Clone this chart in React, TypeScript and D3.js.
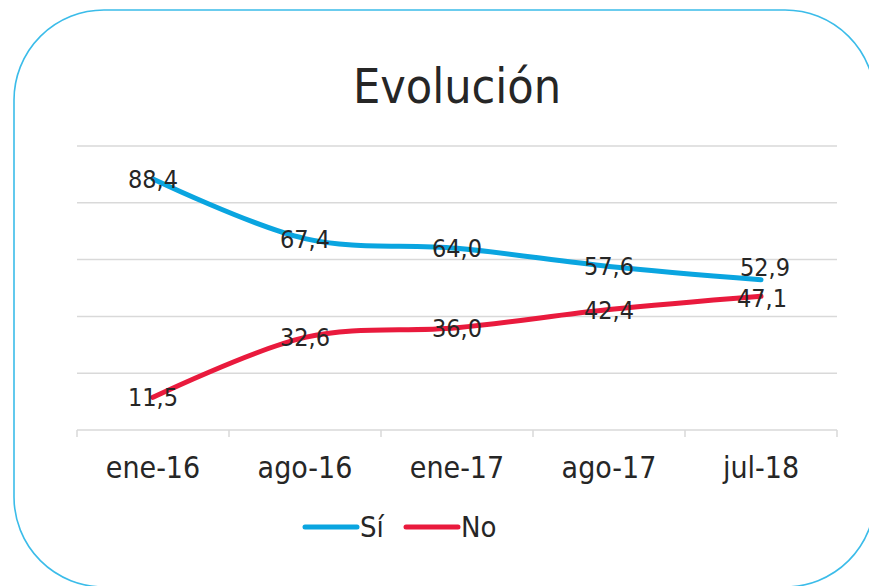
import React, { useEffect, useRef } from 'react';
import * as d3 from 'd3';

const categories = ['ene-16', 'ago-16', 'ene-17', 'ago-17', 'jul-18'];
const siValues = [88.4, 67.4, 64.0, 57.6, 52.9];
const noValues = [11.5, 32.6, 36.0, 42.4, 47.1];
const yTicks = [0, 20, 40, 60, 80, 100];

const series = [
  { name: 'Sí', values: siValues, color: '#0AA5E0' },
  { name: 'No', values: noValues, color: '#E91A3D' }
];

const FONT = '"DejaVu Sans Condensed", "DejaVu Sans", sans-serif';

const App: React.FC = () => {
  const svgRef = useRef<SVGSVGElement>(null);
  const width = 869;
  const height = 586;

  useEffect(() => {
    const svg = d3.select(svgRef.current);
    svg.selectAll('*').remove();

    const plot = { left: 77, right: 837, top: 146, bottom: 430 };

    // Rounded frame (partly off the canvas on the right and bottom)
    svg.append('rect')
      .attr('x', 14)
      .attr('y', 10)
      .attr('width', 861)
      .attr('height', 577)
      .attr('rx', 90)
      .attr('ry', 90)
      .attr('fill', 'white')
      .attr('stroke', '#3BBCE9')
      .attr('stroke-width', 1.6);

    // Title
    svg.append('text')
      .attr('x', 457)
      .attr('y', 103)
      .attr('text-anchor', 'middle')
      .style('font-family', FONT)
      .style('font-stretch', 'condensed')
      .style('font-size', '48px')
      .style('fill', '#262626')
      .text('Evolución');

    // Scales
    const xBand = d3.scaleBand<string>()
      .domain(categories)
      .range([plot.left, plot.right]);

    const xScale = (c: string) => xBand(c)! + xBand.bandwidth() / 2;

    const yScale = d3.scaleLinear()
      .domain([0, 100])
      .range([plot.bottom, plot.top]);

    // Gridlines
    svg.append('g')
      .selectAll('line')
      .data(yTicks)
      .join('line')
      .attr('x1', plot.left)
      .attr('x2', plot.right)
      .attr('y1', d => yScale(d))
      .attr('y2', d => yScale(d))
      .attr('stroke', '#D9D9D9')
      .attr('stroke-width', 1.5);

    // X axis
    const xAxis = svg.append('g')
      .attr('transform', `translate(0,${plot.bottom})`)
      .call(d3.axisBottom(xBand).tickSize(0).tickPadding(48));

    xAxis.select('.domain').remove();
    xAxis.selectAll('text')
      .style('font-family', FONT)
      .style('font-stretch', 'condensed')
      .style('font-size', '30px')
      .style('fill', '#262626')
      .attr('dy', '0');

    // Tick marks at band boundaries
    const boundaries = categories.map(c => xBand(c)!).concat([plot.right]);
    svg.append('g')
      .selectAll('line')
      .data(boundaries)
      .join('line')
      .attr('x1', d => d)
      .attr('x2', d => d)
      .attr('y1', plot.bottom)
      .attr('y2', plot.bottom + 7)
      .attr('stroke', '#D9D9D9')
      .attr('stroke-width', 1.5);

    // Lines
    const line = d3.line<number>()
      .x((_, i) => xScale(categories[i]))
      .y(d => yScale(d))
      .curve(d3.curveCatmullRom.alpha(0));

    series.forEach(s => {
      svg.append('path')
        .datum(s.values)
        .attr('d', line)
        .attr('fill', 'none')
        .attr('stroke', s.color)
        .attr('stroke-width', 5)
        .attr('stroke-linecap', 'round');
    });

    // Data labels (the last pair is nudged apart so they don't collide)
    const nudge = (si: number, i: number) => {
      if (i !== categories.length - 1) return [0, 0];
      return si === 0 ? [4, -13] : [1, 2];
    };

    series.forEach((s, si) => {
      svg.append('g')
        .selectAll('text')
        .data(s.values)
        .join('text')
        .attr('x', (_, i) => xScale(categories[i]) + nudge(si, i)[0])
        .attr('y', (d, i) => yScale(d) + nudge(si, i)[1])
        .attr('dy', '0.36em')
        .attr('text-anchor', 'middle')
        .style('font-family', FONT)
        .style('font-stretch', 'condensed')
        .style('font-size', '25px')
        .style('fill', '#262626')
        .text(d => d.toFixed(1).replace('.', ','));
    });

    // Legend
    const legend = svg.append('g').attr('transform', 'translate(303,527)');
    const legendItems = [
      { ...series[0], x: 0 },
      { ...series[1], x: 101 }
    ];
    legendItems.forEach(item => {
      legend.append('line')
        .attr('x1', item.x + 2)
        .attr('x2', item.x + 54)
        .attr('y1', 0)
        .attr('y2', 0)
        .attr('stroke', item.color)
        .attr('stroke-width', 5)
        .attr('stroke-linecap', 'round');
      legend.append('text')
        .attr('x', item.x + 57)
        .attr('y', 0)
        .attr('dy', '0.36em')
        .style('font-family', FONT)
        .style('font-stretch', 'condensed')
        .style('font-size', '29px')
        .style('fill', '#262626')
        .text(item.name);
    });
  }, []);

  return (
    <svg
      ref={svgRef}
      width={width}
      height={height}
      style={{ position: 'absolute', left: 0, top: 0, display: 'block' }}
    ></svg>
  );
};

export default App;
